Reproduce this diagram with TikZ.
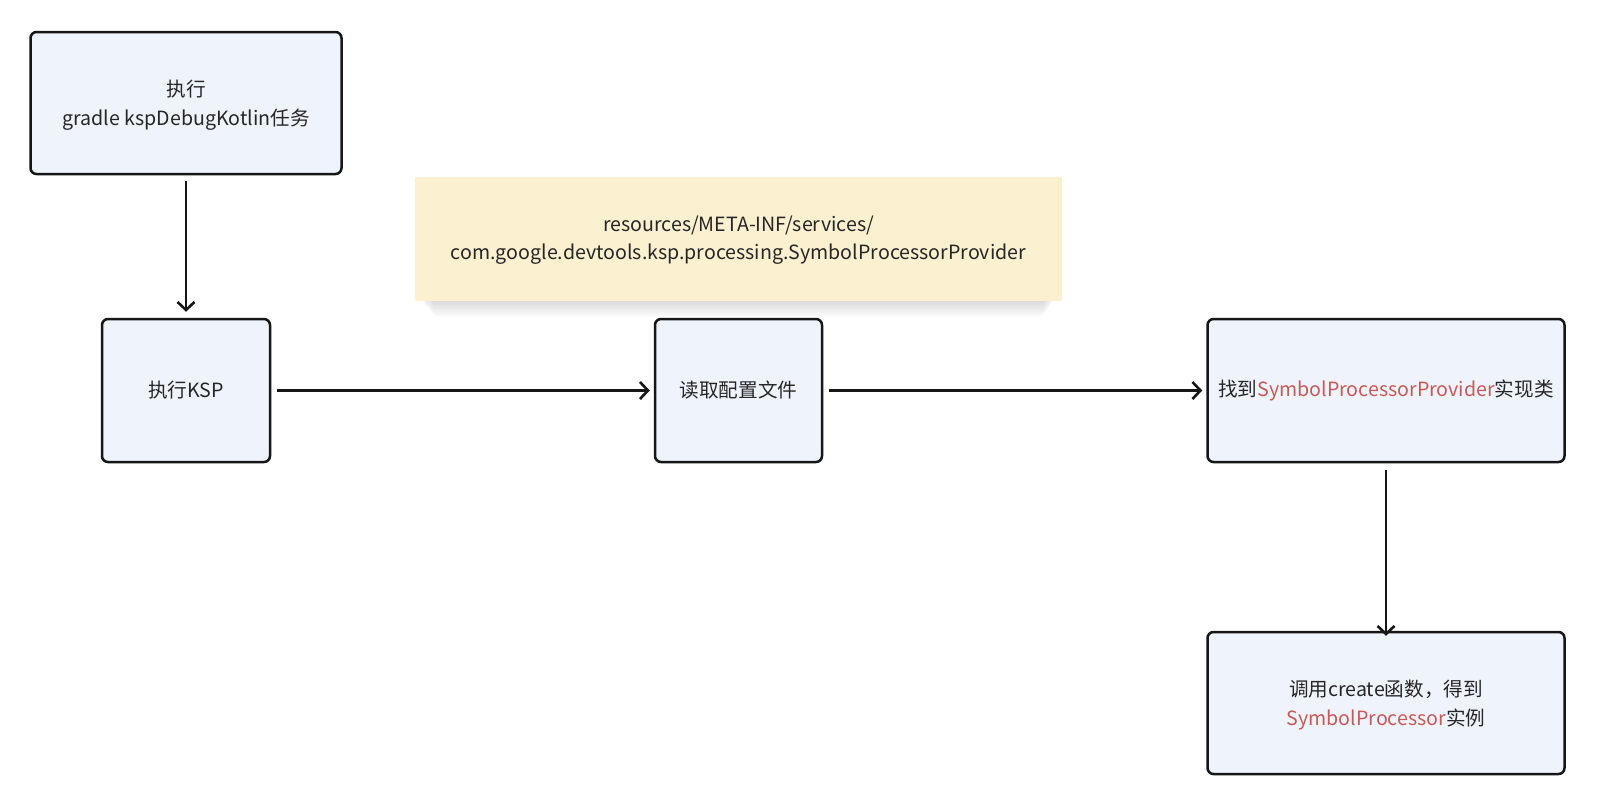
\documentclass[tikz,border=0pt]{standalone}
\usepackage{fontspec}
\setmainfont{Noto Sans CJK SC}
\usetikzlibrary{arrows.meta}
\definecolor{boxfill}{HTML}{EFF3FB}
\definecolor{boxline}{HTML}{161616}
\definecolor{notefill}{HTML}{FBF0D0}
\definecolor{txt}{HTML}{262626}
\definecolor{hl}{HTML}{C65A57}
\tikzset{
  flowbox/.style={draw=boxline, fill=boxfill, line width=2.5pt, rounded corners=6pt,
    align=center, text=txt, font=\fontsize{19.6}{28.6}\selectfont, inner sep=0pt},
  notebox/.style={fill=notefill, inner sep=0pt},
  label/.style={align=center, text=txt, font=\fontsize{19.6}{28.6}\selectfont, inner sep=0pt},
  conn/.style={draw=boxline, line width=2.6pt, -{Straight Barb[length=8pt,width=17pt,line width=2.6pt]}},
}
\begin{document}
\begin{tikzpicture}[x=1pt,y=-1pt]
\useasboundingbox (0,0) rectangle (1604,804);
\fill[white] (0,0) rectangle (1604,804);
% soft shadow of note
\foreach \i in {0,1,...,11}{
  \fill[black, opacity=0.013, rounded corners=6pt] (420+\i*1.2,292) rectangle (1055-\i*1.0,302+\i*1.4);
}
\node[notebox, minimum width=647pt, minimum height=124pt] (note) at (738.5,239) {};
\node[label] (notetext) at (738.5,240) {resources/META-INF/services/\\com.google.devtools.ksp.processing.SymbolProcessorProvider};
\node[flowbox, minimum width=311pt, minimum height=142pt] (task) at (186,103) {};
\node[label] (tasktext) at (186,105) {执行\\gradle kspDebugKotlin任务};
\node[flowbox, minimum width=168pt, minimum height=143pt] (ksp) at (186,390.5) {执行KSP};
\node[flowbox, minimum width=167pt, minimum height=143pt] (read) at (738.5,390.5) {读取配置文件};
\node[flowbox, minimum width=357pt, minimum height=143pt] (find) at (1386,390.5) {找到\textcolor{hl}{SymbolProcessorProvider}实现类};
\node[flowbox, minimum width=357pt, minimum height=142pt] (call) at (1386,703) {};
\node[label] (calltext) at (1386,705) {调用create函数，得到\\\textcolor{hl}{SymbolProcessor}实例};
\draw[conn] ([yshift=-6pt]task.south) -- ([yshift=6pt]ksp.north);
\draw[conn] ([xshift=6pt]ksp.east) -- ([xshift=-4pt]read.west);
\draw[conn] ([xshift=6pt]read.east) -- ([xshift=-4pt]find.west);
\draw[conn] ([yshift=-7pt]find.south) -- ([yshift=-5pt]call.north);
\end{tikzpicture}
\end{document}
